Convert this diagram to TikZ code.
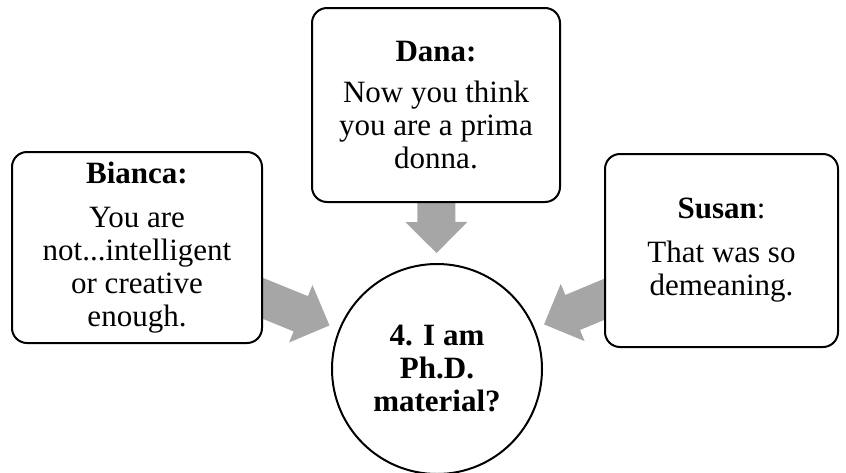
\documentclass[tikz,border=0pt]{standalone}
\usepackage{fontspec}
\setmainfont{Liberation Serif}
\usetikzlibrary{calc,backgrounds}
\definecolor{arrowgray}{RGB}{166,166,166}
\tikzset{
  voice/.style={draw=black, line width=2pt, rounded corners=15pt, fill=white,
    align=center, inner sep=0pt, font=\fontsize{31}{33}\selectfont},
  hub/.style={circle, draw=black, line width=2pt, fill=white, minimum size=210pt,
    inner sep=0pt, align=center, font=\fontsize{31}{33}\selectfont\bfseries},
  blockarrow/.style={fill=arrowgray, draw=none}
}
% Wide block arrow from node #1 towards node #2; #3 prefixes helper coordinates.
\newcommand\feedarrow[3]{%
  \path (#1) -- (#2) coordinate[pos=0] (#3s) coordinate[pos=1] (#3e);
  \coordinate (#3a) at ($(#3s)!-8pt!(#3e)$);
  \coordinate (#3t) at ($(#3e)!10pt!(#3s)$);
  \coordinate (#3h) at ($(#3t)!31pt!(#3s)$);
  \fill[blockarrow] ($(#3a)!19pt!90:(#3t)$) -- ($(#3h)!19pt!90:(#3t)$)
    -- ($(#3h)!31pt!90:(#3t)$) -- (#3t) -- ($(#3h)!31pt!-90:(#3t)$)
    -- ($(#3h)!19pt!-90:(#3t)$) -- ($(#3a)!19pt!-90:(#3t)$) -- cycle;
}
\begin{document}
\begin{tikzpicture}[x=1pt, y=-1pt]
  \useasboundingbox (0,0) rectangle (846,472);

  \node[voice, minimum width=250pt, minimum height=191pt] (bianca) at (137,247.5)
    {{\bfseries Bianca:}\\[11pt]You are\\not...intelligent\\or creative\\enough.};
  \node[voice, minimum width=248pt, minimum height=194pt] (dana) at (436,105)
    {{\bfseries Dana:}\\[8pt]Now you think\\you are a prima\\donna.};
  \node[voice, minimum width=233pt, minimum height=193pt] (susan) at (721.5,250.5)
    {{\bfseries Susan}:\\[11pt]That was so\\demeaning.};
  \node[hub] (phd) at (437,369) {4. I am\\Ph.D.\\material?};

  \begin{scope}[on background layer]
    \feedarrow{bianca}{phd}{b}
    \feedarrow{dana}{phd}{d}
    \feedarrow{susan}{phd}{s}
  \end{scope}
\end{tikzpicture}
\end{document}
